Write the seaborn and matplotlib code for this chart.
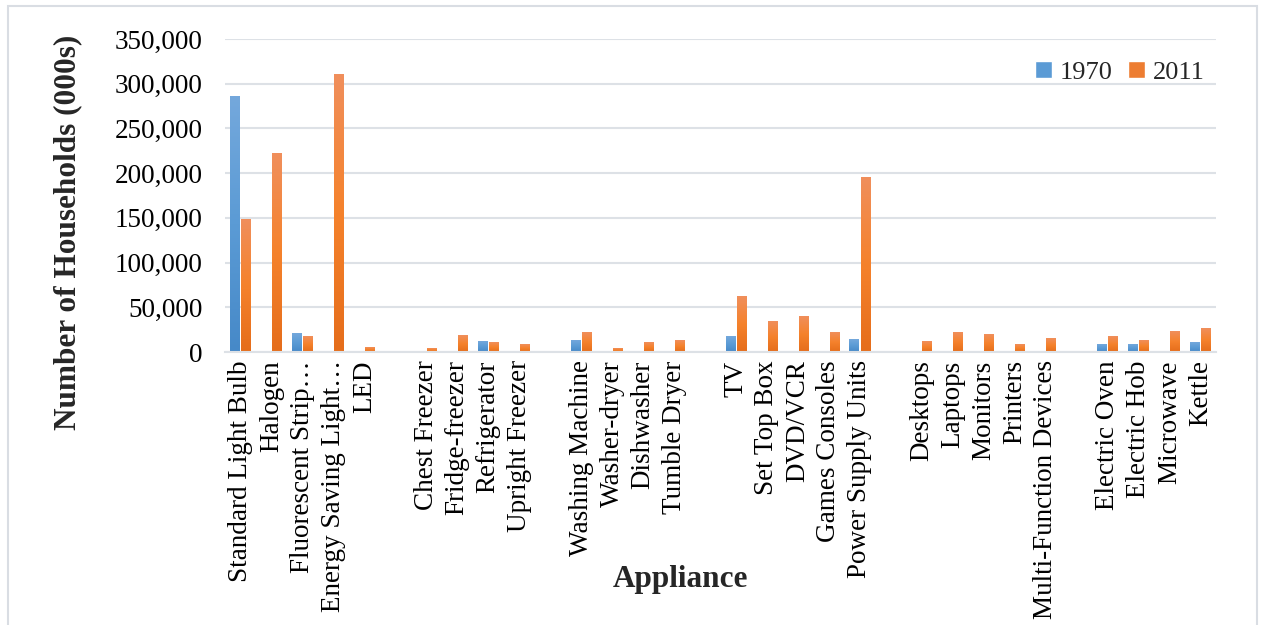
import numpy as np
import pandas as pd
import matplotlib
matplotlib.use("Agg")
import matplotlib.pyplot as plt
from matplotlib.patches import Rectangle
from matplotlib.colors import LinearSegmentedColormap
import seaborn as sns

# Appliance groups (lighting, cold, wet, consumer electronics, ICT, cooking)
lighting = ["Standard Light Bulb", "Halogen", "Fluorescent Strip\u2026",
            "Energy Saving Light\u2026", "LED"]
lighting_1970 = [286000, 0, 21000, 0, 0]
lighting_2011 = [148500, 222500, 17500, 310500, 5000]

cold = ["Chest Freezer", "Fridge-freezer", "Refrigerator", "Upright Freezer"]
cold_1970 = [0, 0, 12000, 0]
cold_2011 = [4000, 18500, 11000, 8500]

wet = ["Washing Machine", "Washer-dryer", "Dishwasher", "Tumble Dryer"]
wet_1970 = [13000, 0, 0, 0]
wet_2011 = [22000, 4000, 11000, 13000]

electronics = ["TV", "Set Top Box", "DVD/VCR", "Games Consoles", "Power Supply Units"]
electronics_1970 = [17500, 0, 0, 0, 14000]
electronics_2011 = [62000, 34500, 40000, 22000, 195500]

ict = ["Desktops", "Laptops", "Monitors", "Printers", "Multi-Function Devices"]
ict_1970 = [0, 0, 0, 0, 0]
ict_2011 = [12000, 22000, 20000, 8500, 15500]

cooking = ["Electric Oven", "Electric Hob", "Microwave", "Kettle"]
cooking_1970 = [8500, 8500, 0, 11000]
cooking_2011 = [17500, 13000, 23000, 26500]

years = ["1970", "2011"]
year_colors = ["#5B9BD5", "#ED7D31"]

groups = [
    (lighting, lighting_1970, lighting_2011),
    (cold, cold_1970, cold_2011),
    (wet, wet_1970, wet_2011),
    (electronics, electronics_1970, electronics_2011),
    (ict, ict_1970, ict_2011),
    (cooking, cooking_1970, cooking_2011),
]

# Long-form table with an empty spacer slot between groups
rows, order = [], []
for gi, (names, a, b) in enumerate(groups):
    if gi > 0:
        spacer = " " * gi
        order.append(spacer)
    for n, v1, v2 in zip(names, a, b):
        order.append(n)
        rows.append({"Appliance": n, "Year": years[0], "Households": v1})
        rows.append({"Appliance": n, "Year": years[1], "Households": v2})
df = pd.DataFrame(rows)

sns.set_theme(style="white")
plt.rcParams["font.family"] = ["Liberation Serif", "DejaVu Serif"]

W, H = 1263, 625
fig = plt.figure(figsize=(W / 100, H / 100), dpi=100)
fig.patch.set_facecolor("white")

# light frame around the chart area
fig.patches.append(Rectangle((8 / W, -0.01), (1257 - 8) / W, 1 - 6 / H + 0.01,
                             transform=fig.transFigure, fill=False,
                             edgecolor="#D9DDE3", linewidth=1.5))

left, right, top, bottom = 225, 1216, 39, 352
ax = fig.add_axes([left / W, 1 - bottom / H, (right - left) / W, (bottom - top) / H])

sns.barplot(data=df, x="Appliance", y="Households", hue="Year", order=order,
            hue_order=years, palette=year_colors, width=0.72, gap=0.12,
            saturation=1, ax=ax, legend=True)

# vertical gradient fill on each bar
grad_maps = {
    "1970": LinearSegmentedColormap.from_list("b", ["#4689C8", "#5B9BD5", "#74A8DC"]),
    "2011": LinearSegmentedColormap.from_list("o", ["#E56D1B", "#F5822C", "#F08F5C"]),
}
grad = np.linspace(0, 1, 256).reshape(-1, 1)
n_slots = len(order)
for container, yr in zip(ax.containers, years):
    for patch in container:
        h = patch.get_height()
        if not np.isfinite(h) or h <= 0:
            continue
        x0 = patch.get_x()
        w = patch.get_width()
        ax.imshow(grad, cmap=grad_maps[yr], origin="lower", aspect="auto",
                  extent=(x0, x0 + w, 0, h), zorder=patch.get_zorder() + 0.1)
        patch.set_alpha(0)

ax.set_xlim(-0.5, n_slots - 0.5)
ax.set_ylim(0, 350000)
ax.set_yticks(np.arange(0, 350001, 50000))
ax.set_yticklabels([f"{v:,}" for v in range(0, 350001, 50000)], fontsize=19.5)
ax.set_xticks(range(n_slots))
ax.set_xticklabels(order, rotation=90, fontsize=19.5)
ax.tick_params(axis="both", length=0, pad=6, colors="black")
ax.tick_params(axis="y", pad=16)
ax.set_axisbelow(True)
ax.grid(axis="y", color="#DDE1E6", linewidth=1.5)
ax.grid(axis="x", visible=False)
for s in ["top", "right", "left"]:
    ax.spines[s].set_visible(False)
ax.spines["bottom"].set_color("#DDE1E6")
ax.spines["bottom"].set_linewidth(1.5)

ax.set_xlabel("Appliance", fontsize=22.5, fontweight="bold")
ax.xaxis.set_label_coords((680 - left) / (right - left), (bottom - 580) / (bottom - top))
ax.xaxis.label.set_va("center")
ax.set_ylabel("Number of Households (000s)", fontsize=22.5, fontweight="bold")
ax.yaxis.set_label_coords((68 - left) / (right - left), (bottom - 232) / (bottom - top))
ax.yaxis.label.set_va("center")

ax.legend(loc="upper right", bbox_to_anchor=(0.999, 0.965), ncol=2, frameon=False,
          fontsize=19, handlelength=0.65, handleheight=0.65, handletextpad=0.3,
          columnspacing=0.55, borderaxespad=0)

fig.savefig("out.png", dpi=100)
